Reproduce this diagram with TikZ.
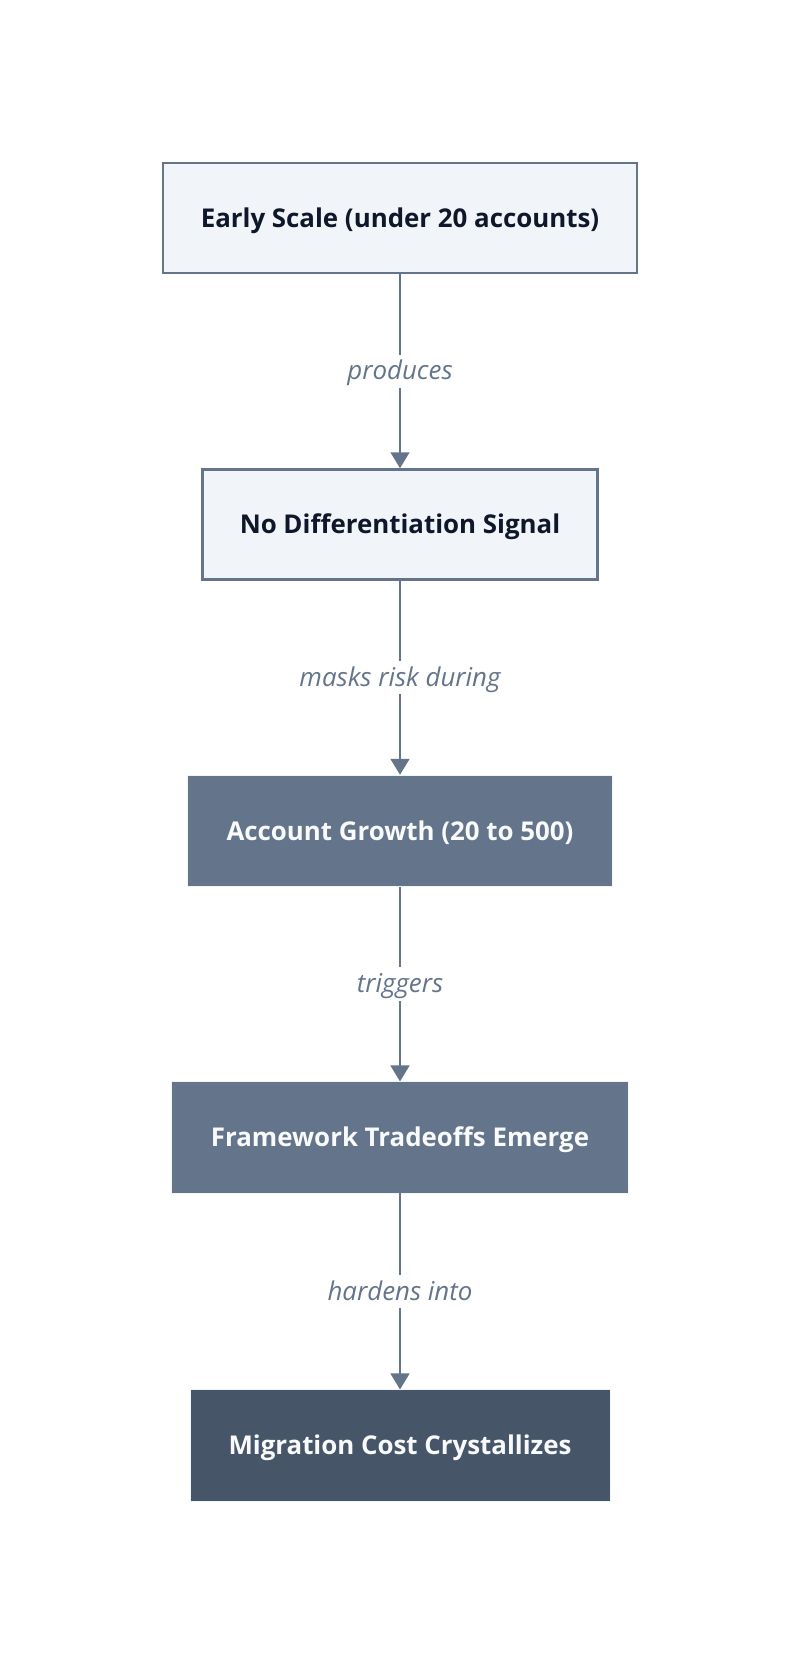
\documentclass[tikz,border=0pt]{standalone}
\usepackage{fontspec}
\setmainfont{Open Sans}
\usetikzlibrary{positioning,arrows.meta}
\definecolor{slateline}{HTML}{64748B}
\definecolor{slatelight}{HTML}{F1F5F9}
\definecolor{slatedark}{HTML}{475569}
\definecolor{inkdark}{HTML}{0F172A}
\definecolor{inklight}{HTML}{F8FAFC}
\tikzset{
  lightbox/.style={draw=slateline, line width=1.9pt, fill=slatelight, text=inkdark,
    minimum height=82.5pt, text height=18pt, text depth=4pt,
    font=\fontsize{19.4}{23}\selectfont\bfseries},
  midbox/.style={draw=slatelight, line width=0.5pt, fill=slateline, text=inklight,
    minimum height=83.5pt, text height=18pt, text depth=4pt,
    font=\fontsize{19.4}{23}\selectfont\bfseries},
  deepbox/.style={midbox, fill=slatedark},
  flow/.style={draw=slateline, line width=2pt, -{Triangle[length=12pt,width=14pt]}},
  flowlabel/.style={fill=white, text=slateline, inner sep=3pt, text height=16pt, text depth=3pt,
    font=\fontsize{19.4}{23}\selectfont\itshape}
}
\begin{document}
\begin{tikzpicture}
        \useasboundingbox (0,0) rectangle (600pt,-1247.25pt);
        \node[lightbox, minimum width=355.5pt] (early) at (300pt,-163.5pt) {Early Scale (under 20 accounts)};
        \node[lightbox, minimum width=296.25pt, below=145.5pt of early] (nosignal) {No Differentiation Signal};
        \node[midbox, minimum width=318.75pt, below=145.5pt of nosignal] (growth) {Account Growth (20 to 500)};
        \node[midbox, minimum width=342.75pt, below=146pt of growth] (tradeoffs) {Framework Tradeoffs Emerge};
        \node[deepbox, minimum width=315pt, below=147pt of tradeoffs] (migration) {Migration Cost Crystallizes};
        \draw[flow] (early) -- node[flowlabel] {produces} (nosignal);
        \draw[flow] (nosignal) -- node[flowlabel] {masks risk during} (growth);
        \draw[flow] (growth) -- node[flowlabel] {triggers} (tradeoffs);
        \draw[flow] (tradeoffs) -- node[flowlabel] {hardens into} (migration);
        \end{tikzpicture}
\end{document}
